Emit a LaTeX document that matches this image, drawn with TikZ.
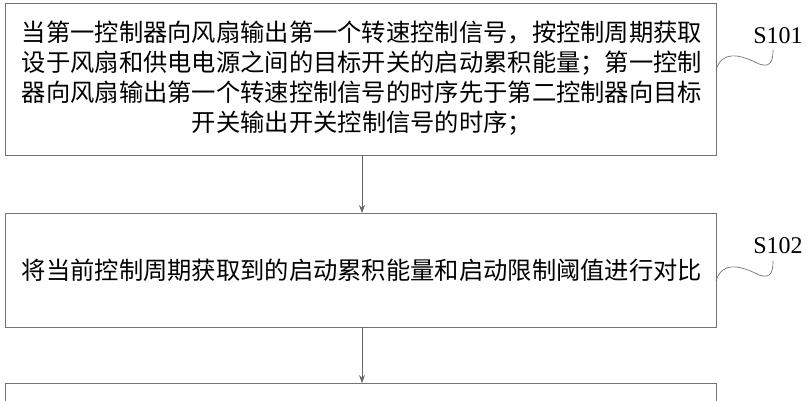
\documentclass[tikz,border=0pt]{standalone}
\usepackage{fontspec}
\usetikzlibrary{arrows.meta}
\setmainfont{Liberation Serif}
\newfontfamily\cjk{Noto Sans CJK SC}
\begin{document}
\begin{tikzpicture}[x=1pt,y=-1pt,
  stepbox/.style={draw=black!55,line width=0.8pt},
  txt/.style={font=\cjk\fontsize{24.3}{30}\selectfont,align=center,inner sep=0},
  lab/.style={font=\fontsize{24}{26}\selectfont,inner sep=0},
  arr/.style={draw=black!60,line width=0.8pt,-{Stealth[length=8pt,width=6pt]}},
  sq/.style={draw=black!55,line width=0.7pt}]
\useasboundingbox (0,0) rectangle (806,400);
\draw[stepbox] (5,3) rectangle (716,155);
\node[txt] (t1) at (362,78) {当第一控制器向风扇输出第一个转速控制信号，按控制周期获取\\设于风扇和供电电源之间的目标开关的启动累积能量；第一控制\\器向风扇输出第一个转速控制信号的时序先于第二控制器向目标\\开关输出开关控制信号的时序；};
\draw[stepbox] (5,213) rectangle (716,327);
\node[txt] (t2) at (362,270) {将当前控制周期获取到的启动累积能量和启动限制阈值进行对比};
\draw[stepbox] (5,383) -- (5,401) (716,383) -- (716,401) (5,383) -- (716,383);
\coordinate (b1) at (362,155);
\coordinate (b2top) at (362,213);
\coordinate (b2) at (362,327);
\coordinate (b3top) at (362,383);
\draw[arr] (b1) -- (b2top);
\draw[arr] (b2) -- (b3top);
\node[lab] (s1) at (778,36) {S101};
\node[lab] (s2) at (778,246) {S102};
\coordinate (e1) at (716,70);
\coordinate (e2) at (716,281);
\draw[sq] (e1) .. controls (722,50) and (740,55) .. (755,62) .. controls (770,70) and (773,62) .. (773,50);
\draw[sq] (e2) .. controls (722,261) and (740,266) .. (755,273) .. controls (770,281) and (773,273) .. (773,261);
\end{tikzpicture}
\end{document}
